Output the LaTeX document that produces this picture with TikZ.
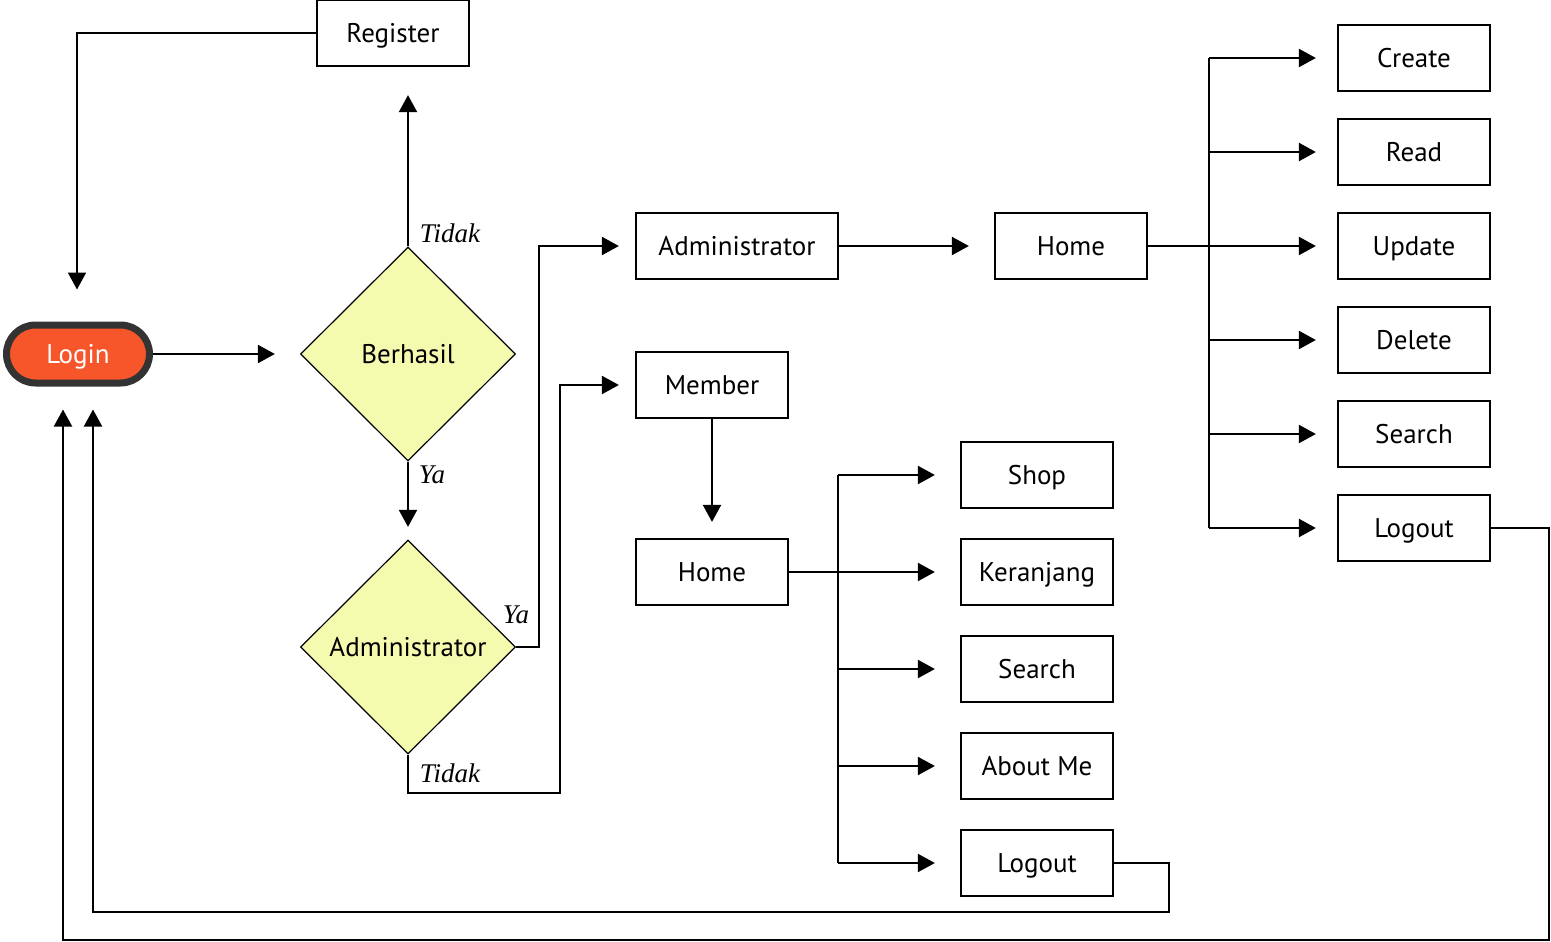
\documentclass[tikz,border=0pt]{standalone}
\usepackage{fontspec}
\setmainfont{PT Sans}
\newfontfamily\lblfont{Liberation Serif}
\usetikzlibrary{shapes.geometric,arrows.meta,calc}
\definecolor{dfill}{HTML}{F5FBAE}
\definecolor{lfill}{HTML}{F7562B}
\definecolor{lborder}{HTML}{333333}
\begin{document}
\begin{tikzpicture}[x=1pt,y=-1pt,
  txt/.style={font=\fontsize{27}{32}\selectfont,text height=19pt,text depth=0pt},
  box/.style={txt,draw,line width=1.2pt,minimum width=152pt,minimum height=66pt,inner sep=0pt},
  dec/.style={txt,draw,diamond,fill=dfill,line width=1.2pt,minimum width=215pt,minimum height=214pt,inner sep=0pt,aspect=1},
  loginbox/.style={txt,draw=lborder,fill=lfill,text=white,line width=7pt,minimum width=143pt,minimum height=58pt,rounded corners=29pt,inner sep=0pt},
  arr/.style={line width=2pt,-{Triangle[length=17pt,width=18pt]}},
  ln/.style={line width=2pt},
  lbl/.style={font=\lblfont\itshape\fontsize{27}{30}\selectfont,inner sep=0pt}]
\useasboundingbox (0,0) rectangle (1551,942);

% nodes
\node[box] (reg) at (393,33) {Register};
\node[loginbox] (login) at (78,354) {Login};
\node[dec] (berh) at (408,354) {Berhasil};
\node[dec] (adec) at (408,647) {Administrator};
\node[box,minimum width=202pt] (abox) at (737,246) {Administrator};
\node[box] (ahome) at (1071,246) {Home};
\node[box] (member) at (712,385) {Member};
\node[box] (mhome) at (712,572) {Home};
\node[box] (shop) at (1037,475) {Shop};
\node[box] (ker) at (1037,572) {Keranjang};
\node[box] (msearch) at (1037,669) {Search};
\node[box] (about) at (1037,766) {About Me};
\node[box] (mlogout) at (1037,863) {Logout};
\node[box] (create) at (1414,58) {Create};
\node[box] (read) at (1414,152) {Read};
\node[box] (update) at (1414,246) {Update};
\node[box] (delete) at (1414,340) {Delete};
\node[box] (asearch) at (1414,434) {Search};
\node[box] (alogout) at (1414,528) {Logout};

% labels
\node[lbl] (t1) at (450,233) {Tidak};
\node[lbl] (y1) at (432,475) {Ya};
\node[lbl] (y2) at (516,615) {Ya};
\node[lbl] (t2) at (450,773) {Tidak};

% coordinates
\coordinate (c1) at (77,33);
\coordinate (ya) at (539,450);
\coordinate (td) at (560,793);
\coordinate (at) at (1209,246);
\coordinate (mt) at (838,572);
\coordinate (r1) at (1169,912);
\coordinate (r1b) at (93,912);
\coordinate (r2) at (1549,940);
\coordinate (r2b) at (63,940);

% connectors
\draw[arr,shorten >=32pt] (reg.west) -- (c1) -- (c1 |- login.north);
\draw[arr,shorten >=25pt] (login.east) -- (berh.west);
\draw[arr,shorten >=28.5pt] (berh.north) -- (berh.north |- reg.south);
\draw[arr,shorten >=12.5pt] (berh.south) -- (adec.north);
\draw[arr,shorten >=16.5pt] (adec.east) -| (ya) |- (abox.west);
\draw[arr,shorten >=16.5pt] (adec.south) |- (td) |- (member.west);
\draw[arr,shorten >=25.5pt] (abox.east) -- (ahome.west);
\draw[arr,shorten >=16.5pt] (member.south) -- (mhome.north);

\draw[ln] (ahome.east) -- (at);
\draw[ln] (at |- create) -- (at |- alogout);
\foreach \n in {create,read,update,delete,asearch,alogout}
  \draw[arr,shorten >=21.5pt] (at |- \n) -- (\n.west);

\draw[ln] (mhome.east) -- (mt);
\draw[ln] (mt |- shop) -- (mt |- mlogout);
\foreach \n in {shop,ker,msearch,about,mlogout}
  \draw[arr,shorten >=25.5pt] (mt |- \n) -- (\n.west);

\draw[arr,shorten >=23pt] (mlogout.east) -| (r1) -- (r1b) -- (r1b |- login.south);
\draw[arr,shorten >=23pt] (alogout.east) -| (r2) -- (r2b) -- (r2b |- login.south);
\end{tikzpicture}
\end{document}
